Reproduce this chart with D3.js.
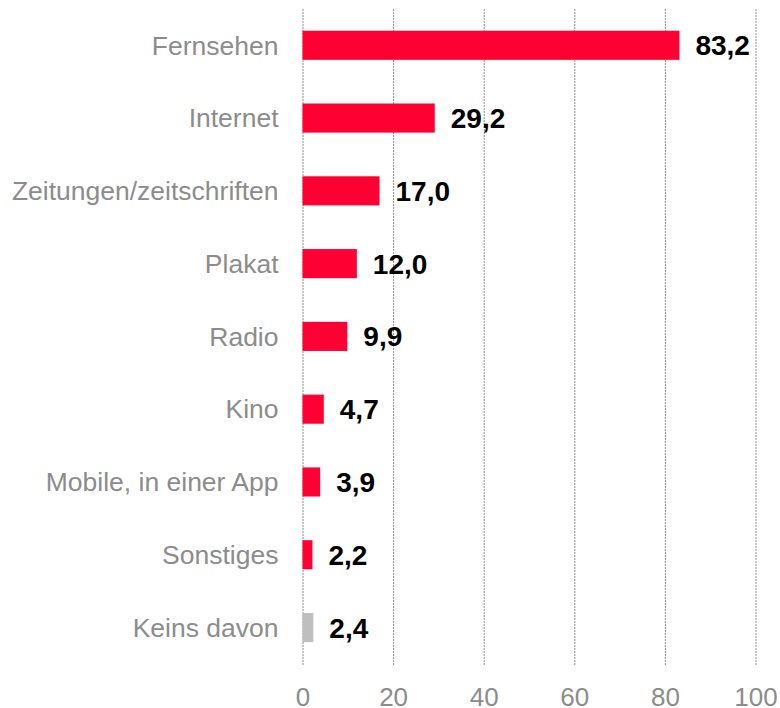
<!DOCTYPE html>
<html>
<head>
<meta charset="utf-8">
<script src="https://cdn.jsdelivr.net/npm/d3@7"></script>
<style>
	body { margin: 0; background: #fff; }
	svg { display: block; font-family: "Liberation Sans", Arial, sans-serif; }
</style>
</head>
<body>
<div id="chart"></div>
<script>
const categories = ["Fernsehen","Internet","Zeitungen/zeitschriften","Plakat","Radio","Kino","Mobile, in einer App","Sonstiges","Keins davon"];
const values = [83.2, 29.2, 17.0, 12.0, 9.9, 4.7, 3.9, 2.2, 2.4];
const barColors = ["#ff0033","#ff0033","#ff0033","#ff0033","#ff0033","#ff0033","#ff0033","#ff0033","#bfbfbf"];
const xTicks = [0, 20, 40, 60, 80, 100];

const W = 780, H = 708;
const data = categories.map((c, i) => ({cat: c, value: values[i], color: barColors[i]}));

const svg = d3.select("#chart").append("svg")
	.attr("width", W)
	.attr("height", H);

const scaleX = d3.scaleLinear()
	.domain([0, 100])
	.range([302.5, 755.5]);

const scaleY = d3.scaleBand()
	.domain(categories)
	.range([8.9, 663.9])
	.paddingInner(0.6)
	.paddingOuter(0.3);

// grid + tick labels
const axisX = d3.axisBottom(scaleX)
	.tickValues(xTicks)
	.tickSize(-657)
	.tickFormat(d3.format("d"));

const gx = svg.append("g")
	.attr("transform", "translate(0,665)")
	.call(axisX);

gx.select(".domain").remove();
gx.selectAll(".tick line")
	.attr("stroke", "#8a8a8a")
	.attr("stroke-width", 1)
	.attr("stroke-dasharray", "2,1");
gx.selectAll(".tick text")
	.attr("y", 41)
	.attr("dy", 0)
	.attr("fill", "#8c8c8c")
	.style("font-size", "26px")
	.style("font-family", "'Liberation Sans', Arial, sans-serif");

// bars
svg.selectAll("rect.bar")
	.data(data)
	.enter()
	.append("rect")
	.attr("class", "bar")
	.attr("x", scaleX(0))
	.attr("y", d => scaleY(d.cat))
	.attr("width", d => scaleX(d.value) - scaleX(0))
	.attr("height", scaleY.bandwidth())
	.attr("fill", d => d.color);

// category labels
svg.selectAll("text.cat")
	.data(data)
	.enter()
	.append("text")
	.attr("class", "cat")
	.attr("x", scaleX(0) - 24)
	.attr("y", d => scaleY(d.cat) + scaleY.bandwidth() / 2)
	.attr("dy", "0.35em")
	.attr("text-anchor", "end")
	.attr("fill", "#8c8c8c")
	.style("font-size", "26.5px")
	.text(d => d.cat);

// value labels
svg.selectAll("text.val")
	.data(data)
	.enter()
	.append("text")
	.attr("class", "val")
	.attr("x", d => scaleX(d.value) + 16)
	.attr("y", d => scaleY(d.cat) + scaleY.bandwidth() / 2)
	.attr("dy", "0.36em")
	.attr("fill", "#000")
	.style("font-size", "28px")
	.style("font-weight", "bold")
	.text(d => d.value.toFixed(1).replace(".", ","));
</script>
</body>
</html>
